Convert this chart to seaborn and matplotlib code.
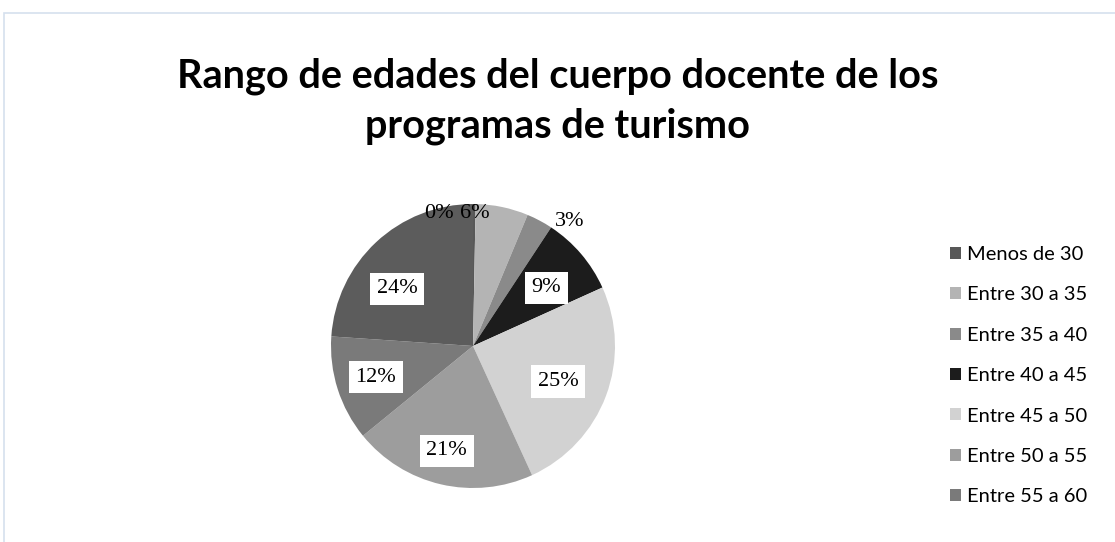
import matplotlib
matplotlib.use("Agg")
import matplotlib.pyplot as plt
import seaborn as sns
from matplotlib.patches import Rectangle
import numpy as np

categories = ["Menos de 30", "Entre 30 a 35", "Entre 35 a 40", "Entre 40 a 45",
              "Entre 45 a 50", "Entre 50 a 55", "Entre 55 a 60", "Más de 60"]
values = [0.3, 6, 3, 9, 25, 21, 12, 24]
pct_labels = ["0%", "6%", "3%", "9%", "25%", "21%", "12%", "24%"]
colors = ["#585858", "#b4b4b4", "#8a8a8a", "#1c1c1c", "#d2d2d2", "#9d9d9d", "#7a7a7a", "#5c5c5c"]
legend_n = 7

sns.set_theme(style="white")
plt.rcParams['font.family'] = ['Lato', 'DejaVu Sans']

fig = plt.figure(figsize=(11.15, 5.42), dpi=100)
W, H = 1115, 542

# light blue chart frame
fig.add_artist(Rectangle((4 / W, -0.1), 1.2, (542 - 13) / H + 0.1, transform=fig.transFigure,
                         fill=False, edgecolor="#d5e0ee", linewidth=1.2))

cx, cy, r = 473, 542 - 346, 142
ax = fig.add_axes([(cx - r) / W, (cy - r) / H, 2 * r / W, 2 * r / H])
wedges, _ = ax.pie(values, colors=colors, startangle=90, counterclock=False, radius=1,
                   wedgeprops=dict(linewidth=0))
ax.set_xlim(-1, 1)
ax.set_ylim(-1, 1)
ax.set_aspect("equal")
ax.axis("off")

# label placement (radius, angle offset in degrees, boxed)
label_style = [(0.96, 15, False), (0.93, 11, False), (1.11, -10, False), (0.66, -2, True),
               (0.65, -2, True), (0.76, -1, True), (0.72, 0, True), (0.67, 10, True)]
for w, lab, (rr, off, boxed) in zip(wedges, pct_labels, label_style):
    th = np.deg2rad((w.theta1 + w.theta2) / 2 + off)
    kw = dict(ha="center", va="center", fontsize=16, family=["Liberation Serif"], color="black")
    if boxed:
        kw["bbox"] = dict(boxstyle="square,pad=0.3", facecolor="white", edgecolor="none")
    ax.text(rr * np.cos(th), rr * np.sin(th), lab, **kw)

fig.text(0.5, 1 - 76 / H, "Rango de edades del cuerpo docente de los", ha="center", va="center",
         fontsize=28.5, fontweight="bold", color="black")
fig.text(0.5, 1 - 126 / H, "programas de turismo", ha="center", va="center",
         fontsize=28.5, fontweight="bold", color="black")

leg = fig.legend(wedges[:legend_n], categories[:legend_n], loc="upper left",
                 bbox_to_anchor=(942 / W, 1 - 238 / H), frameon=False, fontsize=14.5,
                 handlelength=0.55, handleheight=0.55, handletextpad=0.3, labelspacing=1.16,
                 borderaxespad=0)
for t in leg.get_texts():
    t.set_color("black")

fig.savefig("out.png", dpi=100)
